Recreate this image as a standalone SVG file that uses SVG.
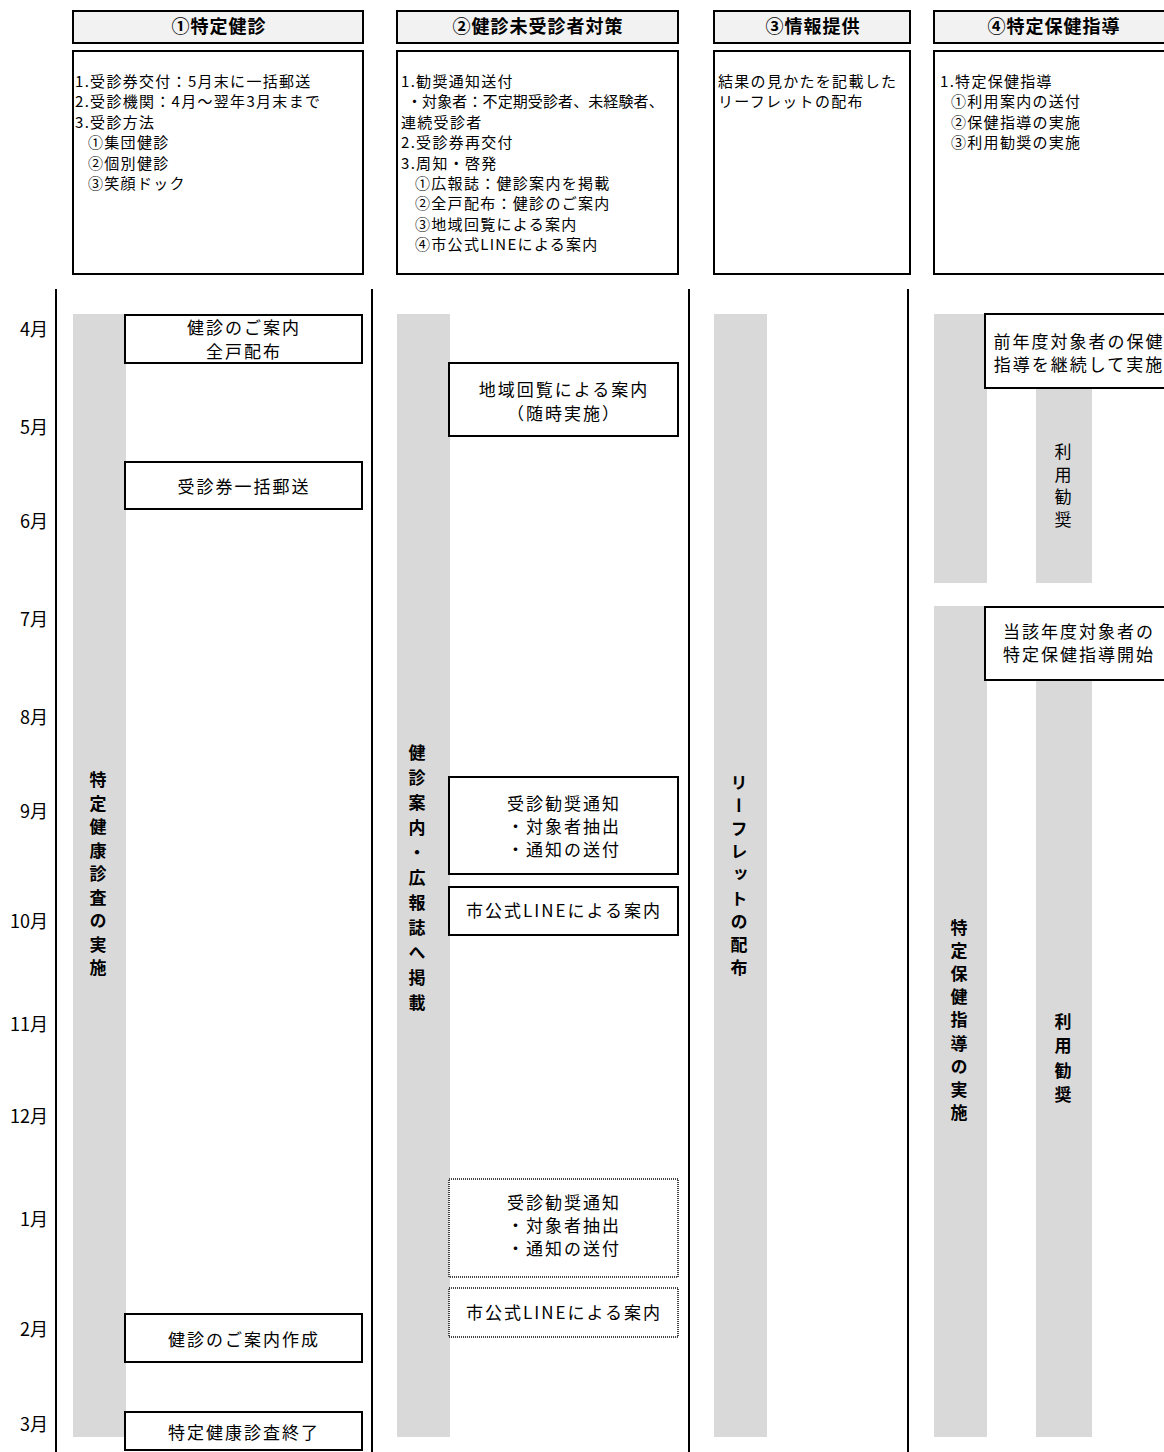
<svg xmlns="http://www.w3.org/2000/svg" width="1164" height="1452" viewBox="0 0 1164 1452">
<style>
text{font-family:"Noto Sans CJK JP","Noto Sans CJK SC",sans-serif;fill:#000}
.hd{fill:#f2f2f2;stroke:#000;stroke-width:2}
.ht{font-size:18px;font-weight:bold;letter-spacing:1px;text-anchor:middle}
.cb{fill:#fff;stroke:#000;stroke-width:2}
.ct{font-size:15px;letter-spacing:1.3px}
.bar{fill:#d9d9d9}
.bx{fill:#fff;stroke:#000;stroke-width:2}
.dx{fill:#fff;stroke:#444;stroke-width:2;stroke-dasharray:1 1}
.bt{font-size:17px;letter-spacing:2px;text-anchor:middle}
.mo{font-size:18px;text-anchor:end}
.vt{font-size:17px;font-weight:bold;writing-mode:vertical-rl;text-anchor:middle}
.vn{font-size:17px;writing-mode:vertical-rl;text-anchor:middle}
.ln{stroke:#000;stroke-width:2}
</style>

<g id="header1">
<rect class="hd" x="73" y="11" width="290" height="32"/>
<text class="ht" x="219" y="33">①特定健診</text>
<rect class="cb" x="73" y="51" width="290" height="223"/>
<text class="ct" x="75" y="87">1.受診券交付：5月末に一括郵送</text>
<text class="ct" x="75" y="107.4">2.受診機関：4月～翌年3月末まで</text>
<text class="ct" x="75" y="127.8">3.受診方法</text>
<text class="ct" x="88" y="148.2">①集団健診</text>
<text class="ct" x="88" y="168.6">②個別健診</text>
<text class="ct" x="88" y="189">③笑顔ドック</text>
</g>

<g id="header2">
<rect class="hd" x="397" y="11" width="281" height="32"/>
<text class="ht" x="538" y="33">②健診未受診者対策</text>
<rect class="cb" x="397" y="51" width="281" height="223"/>
<text class="ct" x="401" y="87">1.勧奨通知送付</text>
<text class="ct" x="407" y="107.4" textLength="258" lengthAdjust="spacing">・対象者：不定期受診者、未経験者、</text>
<text class="ct" x="401" y="127.8">連続受診者</text>
<text class="ct" x="401" y="148.2">2.受診券再交付</text>
<text class="ct" x="401" y="168.6">3.周知・啓発</text>
<text class="ct" x="415" y="189">①広報誌：健診案内を掲載</text>
<text class="ct" x="415" y="209.4">②全戸配布：健診のご案内</text>
<text class="ct" x="415" y="229.8">③地域回覧による案内</text>
<text class="ct" x="415" y="250.2">④市公式LINEによる案内</text>
</g>

<g id="header3">
<rect class="hd" x="714" y="11" width="196" height="32"/>
<text class="ht" x="813" y="33">③情報提供</text>
<rect class="cb" x="714" y="51" width="196" height="223"/>
<text class="ct" x="718" y="87">結果の見かたを記載した</text>
<text class="ct" x="718" y="107.4">リーフレットの配布</text>
</g>

<g id="header4">
<rect class="hd" x="934" y="11" width="240" height="32"/>
<text class="ht" x="1054" y="33">④特定保健指導</text>
<rect class="cb" x="934" y="51" width="240" height="223"/>
<text class="ct" x="940" y="87">1.特定保健指導</text>
<text class="ct" x="951" y="107.4">①利用案内の送付</text>
<text class="ct" x="951" y="127.8">②保健指導の実施</text>
<text class="ct" x="951" y="148.2">③利用勧奨の実施</text>
</g>

<g id="connectors">
<line class="ln" x1="56" y1="289" x2="56" y2="1452"/>
<line class="ln" x1="372" y1="289" x2="372" y2="1452"/>
<line class="ln" x1="689" y1="289" x2="689" y2="1452"/>
<line class="ln" x1="908" y1="289" x2="908" y2="1452"/>
</g>

<g id="months">
<text class="mo" x="48" y="336">4月</text>
<text class="mo" x="48" y="434">5月</text>
<text class="mo" x="48" y="528">6月</text>
<text class="mo" x="48" y="626">7月</text>
<text class="mo" x="48" y="724">8月</text>
<text class="mo" x="48" y="818">9月</text>
<text class="mo" x="48" y="928">10月</text>
<text class="mo" x="48" y="1031">11月</text>
<text class="mo" x="48" y="1123">12月</text>
<text class="mo" x="48" y="1226">1月</text>
<text class="mo" x="48" y="1336">2月</text>
<text class="mo" x="48" y="1431">3月</text>
</g>

<g id="bar1">
<rect class="bar" x="73" y="314" width="53" height="1123"/>
<text class="vt" x="98" y="780 803.5 827 850.5 874 897.5 921 944.5 968">特定健康診査の実施</text>
</g>
<g id="bar2">
<rect class="bar" x="397" y="314" width="53" height="1123"/>
<text class="vt" x="417" y="753 778 803 828 853 878 903 928 953 978 1003">健診案内・広報誌へ掲載</text>
</g>
<g id="bar3">
<rect class="bar" x="714" y="314" width="53" height="1123"/>
<text class="vt" x="739" y="783 806 829 852 875 898.5 921.5 944.5 968">リーフレットの配布</text>
</g>
<g id="bar4a">
<rect class="bar" x="934" y="314" width="53" height="269"/>
</g>
<g id="bar4b">
<rect class="bar" x="1036" y="380" width="56" height="203"/>
<text class="vn" x="1063" y="452 475 497 520">利用勧奨</text>
</g>
<g id="bar4c">
<rect class="bar" x="934" y="606" width="53" height="831"/>
<text class="vt" x="959" y="928 951 974 997 1020 1043.5 1066.5 1089.5 1113">特定保健指導の実施</text>
</g>
<g id="bar4d">
<rect class="bar" x="1036" y="670" width="56" height="767"/>
<text class="vt" x="1063" y="1022 1046 1071 1095">利用勧奨</text>
</g>

<g id="n-annai">
<rect class="bx" x="125" y="315" width="237" height="48"/>
<text class="bt" x="244" y="334">健診のご案内</text>
<text class="bt" x="244" y="358">全戸配布</text>
</g>
<g id="n-yuso">
<rect class="bx" x="125" y="462" width="237" height="47"/>
<text class="bt" x="244" y="493">受診券一括郵送</text>
</g>
<g id="n-sakusei">
<rect class="bx" x="125" y="1314" width="237" height="48"/>
<text class="bt" x="244" y="1346">健診のご案内作成</text>
</g>
<g id="n-shuryo">
<rect class="bx" x="125" y="1412" width="237" height="38"/>
<text class="bt" x="244" y="1439">特定健康診査終了</text>
</g>

<g id="n-kairan">
<rect class="bx" x="449" y="363" width="229" height="73"/>
<text class="bt" x="564" y="396">地域回覧による案内</text>
<text class="bt" x="564" y="420">（随時実施）</text>
</g>
<g id="n-kansho1">
<rect class="bx" x="449" y="777" width="229" height="97"/>
<text class="bt" x="564" y="810">受診勧奨通知</text>
<text class="bt" x="564" y="833">・対象者抽出</text>
<text class="bt" x="564" y="856">・通知の送付</text>
</g>
<g id="n-line1">
<rect class="bx" x="449" y="887" width="229" height="48"/>
<text class="bt" x="564" y="917">市公式LINEによる案内</text>
</g>
<g id="n-kansho2">
<rect class="dx" x="449" y="1179" width="229" height="98"/>
<text class="bt" x="564" y="1209">受診勧奨通知</text>
<text class="bt" x="564" y="1232">・対象者抽出</text>
<text class="bt" x="564" y="1255">・通知の送付</text>
</g>
<g id="n-line2">
<rect class="dx" x="449" y="1288" width="229" height="49"/>
<text class="bt" x="564" y="1319">市公式LINEによる案内</text>
</g>

<g id="n-zennendo">
<rect class="bx" x="985" y="314" width="190" height="74"/>
<text class="bt" x="1079" y="348">前年度対象者の保健</text>
<text class="bt" x="1079" y="371">指導を継続して実施</text>
</g>
<g id="n-tougai">
<rect class="bx" x="985" y="607" width="190" height="73"/>
<text class="bt" x="1079" y="638">当該年度対象者の</text>
<text class="bt" x="1079" y="661">特定保健指導開始</text>
</g>
</svg>
